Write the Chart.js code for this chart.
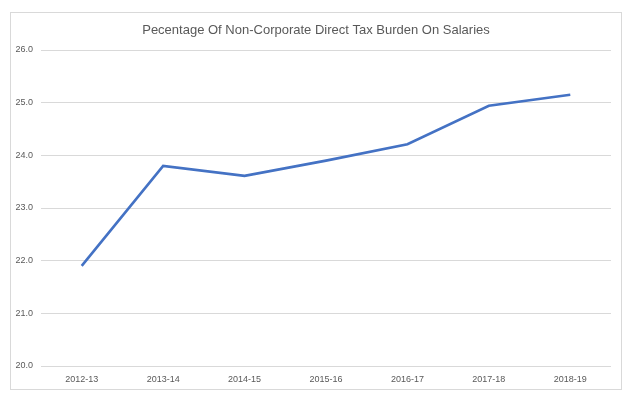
<!DOCTYPE html>
<html>
<head>
<meta charset="utf-8">
<script src="https://cdn.jsdelivr.net/npm/chart.js@4"></script>
<style>
  html, body { margin: 0; padding: 0; background: #fff; }
  #box {
    position: absolute; left: 10px; top: 12px;
    width: 612px; height: 378px;
    box-sizing: border-box; border: 1px solid #d9d9d9;
  }
  #box canvas { display: block; }
</style>
</head>
<body>
<div id="box"><canvas id="chart" width="610" height="376"></canvas></div>
<script>
const years = ["2012-13", "2013-14", "2014-15", "2015-16", "2016-17", "2017-18", "2018-19"];
const burden = [21.9, 23.8, 23.61, 23.9, 24.21, 24.94, 25.15];
const yMin = 20;
const yMax = 26;
const titleText = "Pecentage Of Non-Corporate Direct Tax Burden On Salaries";

const ctx = document.getElementById("chart");

// center the title on the whole canvas, not just the padded layout box
const centerTitle = {
  id: "centerTitle",
  afterLayout(chart) {
    if (chart.titleBlock) {
      chart.titleBlock.left = 0;
      chart.titleBlock.right = chart.width;
      chart.titleBlock.width = chart.width;
    }
  },
};

new Chart(ctx, {
  type: "line",
  data: {
    labels: years,
    datasets: [
      {
        label: "Burden",
        data: burden,
        borderColor: "#4472C4",
        backgroundColor: "#4472C4",
        borderWidth: 2.6,
        pointRadius: 0,
        tension: 0,
        fill: false,
      },
    ],
  },
  options: {
    responsive: false,
    animation: false,
    layout: { padding: { left: 0, right: 10, top: 0, bottom: 0 } },
    plugins: {
      legend: { display: false },
      tooltip: { enabled: false },
      title: {
        display: true,
        text: titleText,
        color: "#595959",
        font: { family: "Liberation Sans", size: 13, weight: "normal" },
        padding: { top: 10, bottom: 11.4 },
      },
    },
    scales: {
      x: {
        offset: true,
        grid: { display: false, drawTicks: false },
        border: { display: false },
        ticks: {
          color: "#595959",
          font: { family: "Liberation Sans", size: 9 },
          padding: 8,
          maxRotation: 0,
        },
        afterFit: (scale) => { scale.height = 23; },
      },
      y: {
        min: yMin,
        max: yMax,
        grid: { color: "#d9d9d9", lineWidth: 1, drawTicks: false },
        border: { display: false },
        ticks: {
          stepSize: 1,
          color: "#595959",
          font: { family: "Liberation Sans", size: 9 },
          padding: 8,
          callback: (v) => Number(v).toFixed(1),
        },
        afterFit: (scale) => { scale.width = 30; },
      },
    },
  },
  plugins: [centerTitle],
});
</script>
</body>
</html>
